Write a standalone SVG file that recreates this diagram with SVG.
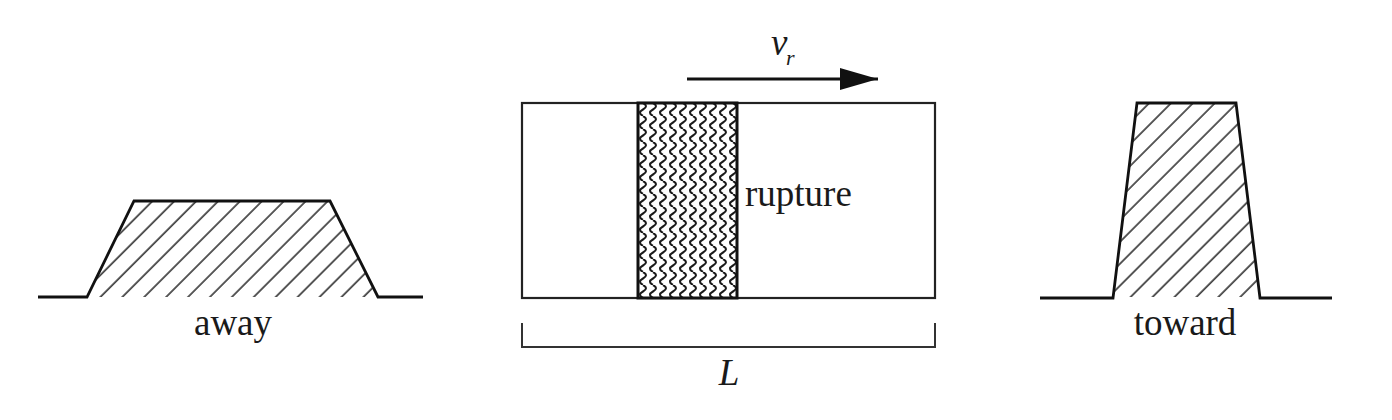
<svg xmlns="http://www.w3.org/2000/svg" width="1392" height="420" viewBox="0 0 1392 420">
  <style>
    .outline { fill: none; stroke: #111; stroke-width: 2.8; stroke-linejoin: miter; }
    .hatched { fill: url(#hatch); stroke: none; }
    .label { font-family: "Liberation Serif", "Times New Roman", serif; font-size: 37px; fill: #1a1a1a; }
    .ital { font-style: italic; }
    .box { fill: #fff; stroke: #222; stroke-width: 2.2; }
    .band { fill: url(#waves); stroke: #111; stroke-width: 3; }
    .bracket { fill: none; stroke: #333; stroke-width: 2; }
  </style>
  <defs>
    <pattern id="hatch" patternUnits="userSpaceOnUse" width="15.5" height="15.5" patternTransform="rotate(45)">
      <line x1="2" y1="0" x2="2" y2="15.5" stroke="#222" stroke-width="1.5"/>
    </pattern>
    <pattern id="waves" patternUnits="userSpaceOnUse" x="638" y="103" width="10" height="13">
      <rect width="10" height="13" fill="#fff"/>
      <path d="M5,0 C9,2.2 9,4.3 5,6.5 C1,8.7 1,10.8 5,13" fill="none" stroke="#1a1a1a" stroke-width="2"/>
    </pattern>
    <marker id="arrowhead" markerUnits="userSpaceOnUse" markerWidth="40" markerHeight="24" refX="38" refY="11" orient="auto">
      <polygon points="0,0 38,11 0,22" fill="#111"/>
    </marker>
  </defs>
  <rect width="1392" height="420" fill="#fff"/>

  <g id="away">
    <polygon class="hatched" points="88,297 134,201 330,201 377,297"/>
    <polyline class="outline" points="38,297 87,297 134,201 330,201 378,297 423,297"/>
    <text class="label" x="233" y="335" text-anchor="middle">away</text>
  </g>

  <g id="fault">
    <rect class="box" x="522" y="103" width="413" height="195"/>
    <rect class="band" x="638" y="103" width="99" height="195"/>
    <text class="label" x="745" y="206">rupture</text>
  </g>

  <g id="length">
    <polyline class="bracket" points="522,323 522,347 935,347 935,323"/>
    <text class="label ital" x="729" y="385" text-anchor="middle">L</text>
  </g>

  <g id="toward">
    <polygon class="hatched" points="1114,297 1137,103 1236,103 1259,297"/>
    <polyline class="outline" points="1040,298 1113,298 1137,103 1236,103 1260,298 1332,298"/>
    <text class="label" x="1185" y="335" text-anchor="middle">toward</text>
  </g>

  <g id="connectors">
    <line x1="687" y1="79" x2="878" y2="79" stroke="#111" stroke-width="3" marker-end="url(#arrowhead)"/>
  </g>

  <g id="velocity-label">
    <text class="label ital" x="771" y="55">v</text>
    <text class="label ital" x="786" y="65" style="font-size:22px">r</text>
  </g>
</svg>
